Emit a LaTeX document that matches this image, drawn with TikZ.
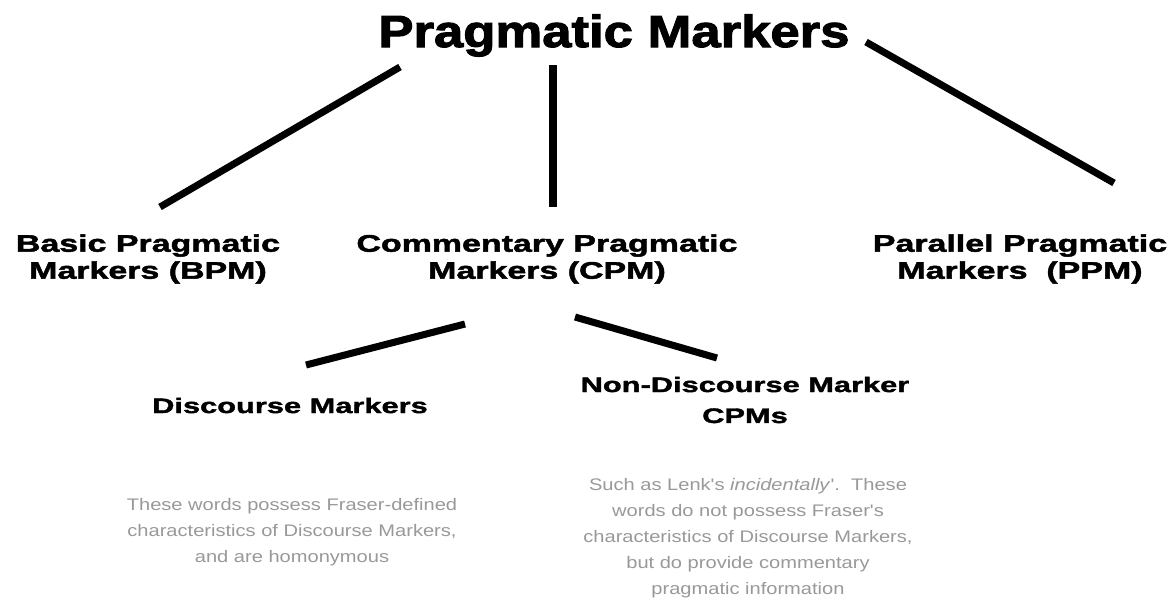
\documentclass[tikz,border=0pt]{standalone}
\usepackage{fontspec}
\setmainfont{Liberation Sans}
\newfontfamily\headfont[FakeBold=2.4, FakeStretch=1.17]{Liberation Sans Bold}
\newfontfamily\kindfont[FakeBold=2, FakeStretch=1.42]{Liberation Sans Bold}
\newfontfamily\subfont[FakeBold=1.8, FakeStretch=1.47]{Liberation Sans Bold}
\newfontfamily\notefont[FakeStretch=1.2]{Liberation Sans}
\usepackage{xcolor}
\usepackage{tikz}

\definecolor{notegray}{gray}{0.6}

\begin{document}
\begin{tikzpicture}[
    x=0.025cm, y=-0.025cm,
    every node/.style={align=center, inner sep=0pt},
    head/.style={font=\headfont\fontsize{32}{38}\selectfont, anchor=base},
    kind/.style={font=\kindfont\fontsize{17}{19.2}\selectfont},
    sub/.style={font=\subfont\fontsize{14.9}{22}\selectfont},
    note/.style={font=\notefont\fontsize{11.9}{18.5}\selectfont, text=notegray},
    branch/.style={line width=5pt},
  ]
    % bounding box
    \useasboundingbox[fill=white] (0, 0) rectangle (1176, 608);

    % title
    \node[head] (pm) at (614, 47) {Pragmatic Markers};

    % three kinds
    \node[kind] (bpm) at (148, 259) {Basic Pragmatic\\Markers (BPM)};
    \node[kind] (cpm) at (547, 259) {Commentary Pragmatic\\Markers (CPM)};
    \node[kind] (ppm) at (1020, 259) {Parallel Pragmatic\\Markers\ \ (PPM)};

    % CPM subtypes
    \node[sub, anchor=base] (dm) at (290, 413) {Discourse Markers};
    \node[sub] (ndm) at (745, 400) {Non-Discourse Marker\\CPMs};

    % notes
    \node[note] (dmnote) at (292, 532)
      {These words possess Fraser-defined\\characteristics of Discourse Markers,\\and are homonymous};
    \node[note] (ndmnote) at (748, 538)
      {Such as Lenk's \textit{incidentally}'.\ \ These\\words do not possess Fraser's\\characteristics of Discourse Markers,\\but do provide commentary\\pragmatic information};

    % line ends
    \coordinate (pm-l) at (400, 67);
    \coordinate (pm-m) at (553, 65);
    \coordinate (pm-r) at (866, 42);
    \coordinate (bpm-t) at (160, 207);
    \coordinate (cpm-t) at (553, 207);
    \coordinate (ppm-t) at (1114, 183);
    \coordinate (cpm-l) at (465, 324);
    \coordinate (cpm-r) at (575, 317);
    \coordinate (dm-t) at (306, 365);
    \coordinate (ndm-t) at (717, 358);

    % branches
    \draw[branch] (pm-l) -- (bpm-t);
    \draw[branch] (pm-m) -- (cpm-t);
    \draw[branch] (pm-r) -- (ppm-t);
    \draw[branch] (cpm-l) -- (dm-t);
    \draw[branch] (cpm-r) -- (ndm-t);
  \end{tikzpicture}
\end{document}
